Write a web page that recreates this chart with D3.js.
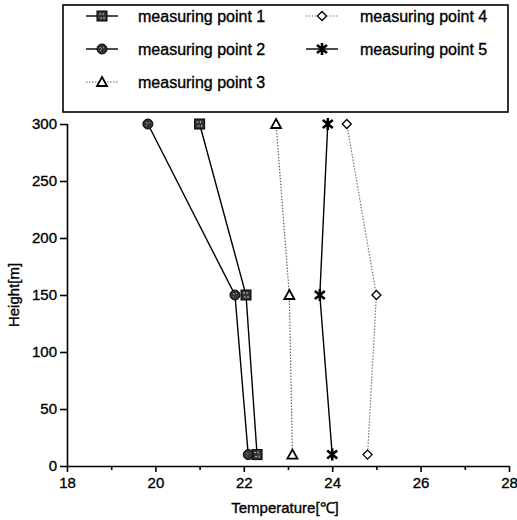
<!DOCTYPE html>
<html><head><meta charset="utf-8">
<script src="https://cdn.jsdelivr.net/npm/d3@7"></script>
<style>body{margin:0;background:#fff}svg{font-family:"Liberation Sans",Arial,sans-serif}</style>
</head><body><svg id="c" width="517" height="520"></svg>
<script>
const heights = [300, 150, 10];
const seriesNames = ["measuring point 1","measuring point 2","measuring point 3","measuring point 4","measuring point 5"];
const p1 = [21.0, 22.05, 22.3];
const p2 = [19.83, 21.8, 22.1];
const p3 = [22.73, 23.03, 23.1];
const p4 = [24.33, 25.0, 24.8];
const p5 = [23.9, 23.72, 24.0];
const xTicks = [18,20,22,24,26,28];
const xMinorTicks = [19,21,23,25,27];
const yTicks = [0,50,100,150,200,250,300];

const svg = d3.select("#c");
const x = d3.scaleLinear().domain([18,28]).range([67,509]);
const y = d3.scaleLinear().domain([0,300]).range([466,124]);

const styles = [
  {vals:p1, sym:"square", dash:null, color:"#000"},
  {vals:p2, sym:"circle", dash:null, color:"#000"},
  {vals:p3, sym:"triangle", dash:"1.5,1.5", color:"#666"},
  {vals:p4, sym:"diamond", dash:"1.5,1.5", color:"#777"},
  {vals:p5, sym:"star", dash:null, color:"#000"}
];

function drawMarker(g, type, cx, cy) {
  const s = g.append("g").attr("transform", `translate(${cx},${cy})`);
  if (type==="square") {
    s.append("rect").attr("x",-5).attr("y",-5).attr("width",10).attr("height",10).attr("fill","#333").attr("stroke","#000").attr("stroke-width",1);
    s.append("path").attr("d","M-3,-2h2M1,-3v2M-2,2h2M2,1v2").attr("stroke","#bbb").attr("stroke-width",1);
  } else if (type==="circle") {
    s.append("circle").attr("r",5).attr("fill","#333").attr("stroke","#000").attr("stroke-width",1);
    s.append("path").attr("d","M-2,-2l2,2M1,-2l1,1M-2,1l1,1").attr("stroke","#999").attr("stroke-width",1);
  } else if (type==="triangle") {
    s.append("path").attr("d","M0,-5L5,4L-5,4Z").attr("fill","#fff").attr("stroke","#000").attr("stroke-width",1.8);
  } else if (type==="diamond") {
    s.append("path").attr("d","M0,-4.5L4.5,0L0,4.5L-4.5,0Z").attr("fill","#fff").attr("stroke","#000").attr("stroke-width",1.3);
  } else if (type==="star") {
    s.append("path").attr("d","M-5,-4L5,4M-5,4L5,-4M0,-6V6").attr("stroke","#000").attr("stroke-width",2.6);
  }
}

// axes
const xAxis = svg.append("g").attr("transform","translate(0,466)")
  .call(d3.axisBottom(x).tickValues(xTicks).tickSize(6).tickPadding(5).tickFormat(d3.format("d")));
svg.append("g").attr("transform","translate(0,466)")
  .call(d3.axisBottom(x).tickValues(xMinorTicks).tickSize(4).tickFormat(""))
  .select(".domain").remove();
const yAxis = svg.append("g").attr("transform","translate(67,0)")
  .call(d3.axisLeft(y).tickValues(yTicks).tickSize(7).tickPadding(3).tickFormat(d3.format("d")));
svg.selectAll(".domain").attr("stroke","#000").attr("stroke-width",1.6);
svg.selectAll(".tick line").attr("stroke","#000").attr("stroke-width",1.6);
svg.selectAll(".tick text").attr("font-size",15).attr("fill","#000").attr("stroke","#000").attr("stroke-width",0.35).style("font-family","Liberation Sans, Arial, sans-serif");
xAxis.selectAll(".domain").attr("d","M67,0.5H509");
yAxis.selectAll(".domain").attr("d","M0.5,466V124");

// lines & markers
const line = d3.line().x(d=>x(d[0])).y(d=>y(d[1]));
styles.forEach(st=>{
  const pts = st.vals.map((v,i)=>[v,heights[i]]);
  svg.append("path").attr("d",line(pts)).attr("fill","none").attr("stroke",st.color)
    .attr("stroke-width", st.dash?1.2:1.4).attr("stroke-dasharray",st.dash);
  pts.forEach(p=>drawMarker(svg, st.sym, x(p[0]), y(p[1])));
});

// axis titles
svg.append("text").attr("x",285).attr("y",513).attr("text-anchor","middle").attr("font-size",15).attr("stroke","#000").attr("stroke-width",0.35).text("Temperature[℃]");
svg.append("text").attr("transform","translate(19,295) rotate(-90)").attr("text-anchor","middle").attr("font-size",15).attr("stroke","#000").attr("stroke-width",0.35).text("Height[m]");

// legend
svg.append("rect").attr("x",63).attr("y",5).attr("width",445).attr("height",107).attr("fill","#fff").attr("stroke","#000").attr("stroke-width",1.6);
const legPos = [[0,0],[0,1],[0,2],[1,0],[1,1]];
const colSym = [102, 322], colText = [138, 360], rowY = [16, 49, 82];
styles.forEach((st,i)=>{
  const [c,r] = legPos[i];
  const cx = colSym[c], cy = rowY[r];
  svg.append("line").attr("x1",cx-16).attr("x2",cx+16).attr("y1",cy).attr("y2",cy)
    .attr("stroke",st.color).attr("stroke-width",st.dash?1.2:1.4).attr("stroke-dasharray",st.dash);
  drawMarker(svg, st.sym, cx, cy);
  svg.append("text").attr("x",colText[c]).attr("y",cy+5.5).attr("font-size",16).attr("stroke","#000").attr("stroke-width",0.35).text(seriesNames[i]);
});
</script></body></html>
